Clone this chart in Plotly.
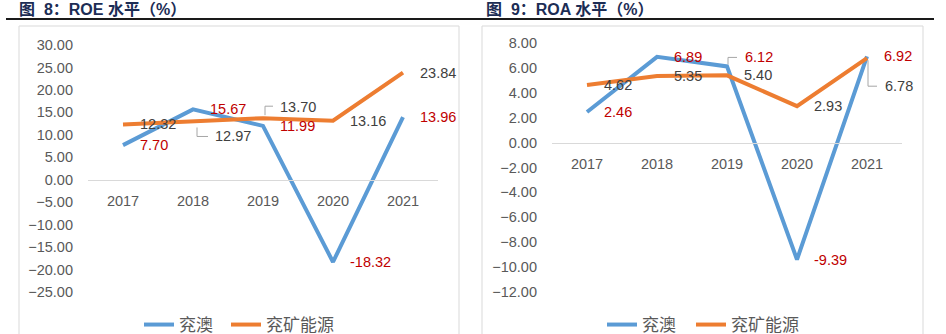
import plotly.graph_objects as go

years = [2017, 2018, 2019, 2020, 2021]
roe_yanao = [7.70, 15.67, 11.99, -18.32, 13.96]
roe_yankuang = [12.32, 12.97, 13.70, 13.16, 23.84]
roa_yanao = [2.46, 6.89, 6.12, -9.39, 6.92]
roa_yankuang = [4.62, 5.35, 5.40, 2.93, 6.78]
series_names = ["兖澳", "兖矿能源"]
titles = ["图&nbsp;&nbsp;8：ROE 水平（%）", "图&nbsp;&nbsp;9：ROA 水平（%）"]

BLUE = "#5b9bd5"
ORANGE = "#ed7d31"
RED = "#c00000"
GRAY = "#404040"
AXIS_TXT = "#595959"
FONT = "Liberation Sans, Arial, Noto Sans CJK SC, sans-serif"
CJK = "Noto Sans CJK SC, Liberation Sans, sans-serif"

W, H = 946, 334

def px(v):
    return v / W

def py(v):
    return 1 - v / H

panels = [
    dict(ax="", yr=[-25, 30], dt=5, xd=[px(88), px(438)], yd=[py(292), py(45)],
         data=[roe_yanao, roe_yankuang], box=[19, 459], title_x=17, legend_x=[139, 226],
         special={(1, 1): (20, -15, "M 4 -6 L 4 -15 L 15 -15"),
                  (1, 2): (15, 11.5, "M 2 3 L 2 12 L 10 12")}),
    dict(ax="2", yr=[-12, 8], dt=2, xd=[px(552), px(902)], yd=[py(292), py(43)],
         data=[roa_yanao, roa_yankuang], box=[482, 923], title_x=484, legend_x=[602, 691],
         special={(0, 2): (16, 9, "M 1 2 L 1 9 L 10 9"),
                  (1, 4): (16, -28, "M 1 -2 L 1 -28 L 10 -28")}),
]

fig = go.Figure()
annotations = []
shapes = []
legends = {}

leg_common = dict(orientation="h", yanchor="middle", y=py(325), xanchor="left",
                  font=dict(family=CJK, size=17, color=AXIS_TXT),
                  bgcolor="rgba(0,0,0,0)", itemwidth=30)

for pi, p in enumerate(panels):
    xa = "x" + p["ax"]
    ya = "y" + p["ax"]
    for si, (vals, col) in enumerate(zip(p["data"], [BLUE, ORANGE])):
        n = pi * 2 + si + 1
        lg = "legend" if n == 1 else f"legend{n}"
        legends[lg] = dict(x=px(p["legend_x"][si]), **leg_common)
        fig.add_trace(go.Scatter(x=years, y=vals, mode="lines", name=series_names[si],
                                 line=dict(color=col, width=4), xaxis=xa, yaxis=ya,
                                 legend=lg, hoverinfo="skip"))
        for i, v in enumerate(vals):
            xs, ys, path = p["special"].get((si, i), (15, 0, None))
            annotations.append(dict(x=years[i], y=v, xref=xa, yref=ya, text=f"{v:.2f}",
                                    showarrow=False, xanchor="left", yanchor="middle",
                                    xshift=xs, yshift=ys,
                                    font=dict(family=FONT, size=14.5,
                                              color=RED if si == 0 else GRAY)))
            if path:
                shapes.append(dict(type="path", xref=xa, yref=ya, xsizemode="pixel",
                                   ysizemode="pixel", xanchor=years[i], yanchor=v,
                                   path=path, line=dict(color="#a6a6a6", width=1)))
    ymin, ymax = p["yr"]
    zero_pos = p["yd"][0] + (0 - ymin) / (ymax - ymin) * (p["yd"][1] - p["yd"][0])
    axkey = p["ax"]
    fig.update_layout(**{
        "xaxis" + axkey: dict(domain=p["xd"], range=[years[0] - 0.5, years[-1] + 0.5],
                              tickvals=years, ticktext=[str(y) for y in years],
                              anchor="free", position=zero_pos, showline=True,
                              linecolor="#d9d9d9", linewidth=1, showgrid=False,
                              zeroline=False, ticks="", ticklabelstandoff=8,
                              tickfont=dict(family=FONT, size=14.5, color=AXIS_TXT)),
        "yaxis" + axkey: dict(domain=p["yd"], range=p["yr"], dtick=p["dt"], tick0=0,
                              tickformat=".2f", showgrid=False, zeroline=False,
                              showline=False, ticks="", ticklabelstandoff=14,
                              anchor="x" + axkey,
                              tickfont=dict(family=FONT, size=14.5, color=AXIS_TXT)),
    })
    shapes.append(dict(type="rect", xref="paper", yref="paper", x0=px(p["box"][0]),
                       x1=px(p["box"][1]), y0=py(345), y1=py(26),
                       line=dict(color="#d9d9d9", width=1), layer="below"))
    annotations.append(dict(xref="paper", yref="paper", x=px(p["title_x"]), y=py(9),
                            xanchor="left", yanchor="middle", showarrow=False,
                            text="<b>" + titles[pi] + "</b>",
                            font=dict(family=FONT, size=16, color="#1c2d55")))

shapes.append(dict(type="line", xref="paper", yref="paper", x0=px(6), x1=px(934),
                   y0=py(19), y1=py(19), line=dict(color="#1a1a1a", width=2)))

fig.update_layout(
    width=W, height=H, margin=dict(l=0, r=0, t=0, b=0, autoexpand=False),
    paper_bgcolor="white", plot_bgcolor="rgba(0,0,0,0)",
    showlegend=True,
    annotations=annotations, shapes=shapes,
    **legends,
)

fig.write_html("out.html")
